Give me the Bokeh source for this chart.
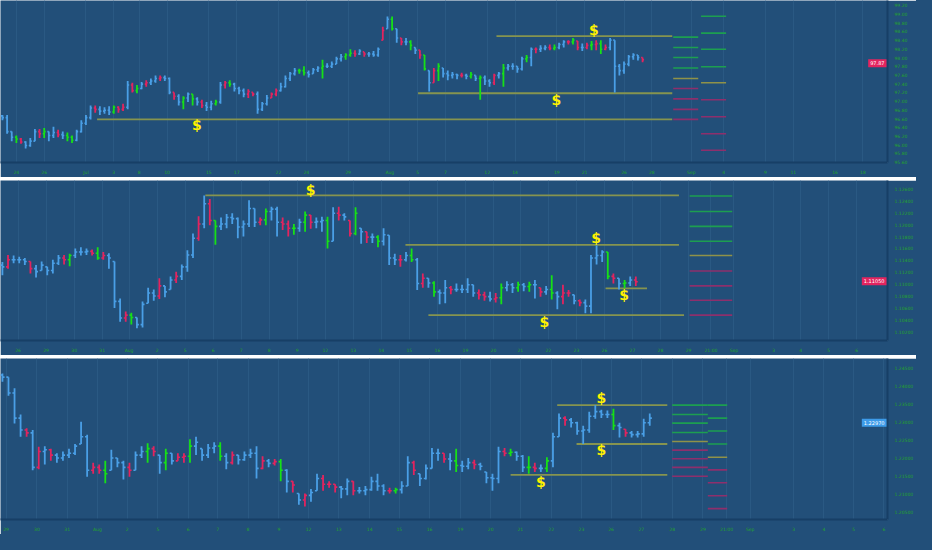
from bokeh.plotting import figure
from bokeh.layouts import column
from bokeh.models import ColumnDataSource, FixedTicker, PrintfTickFormatter, Range1d, Label
from bokeh.core.properties import value
from bokeh.embed import file_html
from bokeh.resources import INLINE
from bokeh.core.templates import get_env

BG = "#224f79"
COL = {"b": "#4a9fe6", "r": "#e3245f", "g": "#17e017"}
LAD = {"g": "#1d9f50", "o": "#8f9249", "m": "#8e2f6c"}
LEVEL_COLOR = "#86944f"
AXIS_LINE = "#173f66"
LABEL_GREEN = "#23a52a"

# ---------------- Panel 1 (dollar index) ----------------
P1_HIGH = [96.68, 96.68, 96.30, 96.21, 96.15, 96.08, 96.15, 96.36, 96.36, 96.38,
           96.30, 96.41, 96.34, 96.30, 96.28, 96.21, 96.34, 96.56, 96.68, 96.90,
           96.90, 96.88, 96.86, 96.88, 96.90, 96.88, 96.94, 97.46, 97.42, 97.37,
           97.44, 97.48, 97.52, 97.59, 97.59, 97.59, 97.54, 97.20, 97.16, 97.11,
           97.20, 97.16, 97.09, 97.03, 96.98, 97.01, 97.03, 97.44, 97.46, 97.48,
           97.42, 97.33, 97.29, 97.27, 97.20, 97.22, 96.98, 97.14, 97.20, 97.29,
           97.42, 97.59, 97.67, 97.76, 97.74, 97.80, 97.70, 97.76, 97.80, 97.95,
           97.87, 97.91, 98.02, 98.08, 98.10, 98.19, 98.17, 98.19, 98.13, 98.13,
           98.15, 98.23, 98.71, 98.94, 98.94, 98.66, 98.45, 98.45, 98.40, 98.23,
           98.17, 98.06, 97.70, 97.76, 97.87, 97.76, 97.70, 97.67, 97.63, 97.65,
           97.63, 97.67, 97.59, 97.59, 97.59, 97.50, 97.63, 97.67, 97.85, 97.85,
           97.87, 97.80, 98.02, 98.06, 98.23, 98.23, 98.28, 98.28, 98.30, 98.30,
           98.34, 98.40, 98.40, 98.45, 98.38, 98.32, 98.34, 98.38, 98.40, 98.40,
           98.30, 98.45, 98.40, 97.85, 97.91, 98.06, 98.10, 98.06, 98.00]
P1_LOW = [96.56, 96.25, 96.08, 96.04, 96.02, 95.91, 95.95, 96.08, 96.15, 96.15,
          96.08, 96.15, 96.17, 96.13, 96.08, 96.04, 96.08, 96.28, 96.45, 96.58,
          96.73, 96.68, 96.71, 96.68, 96.71, 96.73, 96.77, 96.81, 97.20, 97.18,
          97.27, 97.33, 97.37, 97.42, 97.46, 97.46, 97.16, 97.03, 96.90, 96.81,
          96.98, 96.90, 96.90, 96.84, 96.77, 96.79, 96.90, 96.94, 97.29, 97.33,
          97.22, 97.16, 97.09, 97.07, 97.11, 96.71, 96.77, 96.90, 97.07, 97.11,
          97.22, 97.31, 97.46, 97.59, 97.63, 97.59, 97.54, 97.63, 97.67, 97.52,
          97.76, 97.76, 97.85, 97.91, 97.95, 98.02, 98.02, 98.06, 98.02, 98.02,
          98.02, 98.02, 98.40, 98.66, 98.62, 98.34, 98.28, 98.28, 98.17, 98.08,
          97.97, 97.70, 97.22, 97.42, 97.46, 97.54, 97.48, 97.52, 97.50, 97.54,
          97.50, 97.52, 97.46, 97.03, 97.37, 97.33, 97.37, 97.52, 97.33, 97.70,
          97.72, 97.65, 97.70, 97.89, 97.80, 98.10, 98.13, 98.17, 98.17, 98.17,
          98.19, 98.23, 98.30, 98.30, 98.17, 98.15, 98.19, 98.17, 98.17, 98.08,
          98.17, 98.17, 97.20, 97.59, 97.63, 97.80, 97.95, 97.93, 97.89]
P1_CLOSE = [96.62, 96.30, 96.17, 96.13, 96.06, 95.98, 96.08, 96.30, 96.25, 96.30,
            96.21, 96.28, 96.23, 96.21, 96.17, 96.10, 96.30, 96.49, 96.62, 96.84,
            96.81, 96.77, 96.79, 96.75, 96.86, 96.81, 96.86, 97.37, 97.24, 97.29,
            97.39, 97.42, 97.46, 97.52, 97.54, 97.52, 97.20, 97.11, 96.98, 97.07,
            97.16, 97.05, 96.98, 96.90, 96.86, 96.94, 96.98, 97.37, 97.42, 97.39,
            97.29, 97.24, 97.16, 97.22, 97.16, 96.81, 96.94, 97.07, 97.16, 97.24,
            97.33, 97.52, 97.63, 97.70, 97.70, 97.65, 97.61, 97.72, 97.76, 97.80,
            97.80, 97.85, 97.97, 98.02, 98.06, 98.10, 98.08, 98.15, 98.08, 98.08,
            98.06, 98.19, 98.62, 98.88, 98.66, 98.45, 98.36, 98.36, 98.28, 98.17,
            98.06, 97.74, 97.42, 97.70, 97.80, 97.63, 97.59, 97.61, 97.59, 97.59,
            97.57, 97.61, 97.52, 97.54, 97.46, 97.42, 97.59, 97.63, 97.76, 97.80,
            97.80, 97.74, 97.97, 98.00, 98.19, 98.19, 98.21, 98.23, 98.21, 98.23,
            98.30, 98.36, 98.36, 98.40, 98.23, 98.23, 98.28, 98.30, 98.32, 98.19,
            98.23, 98.40, 97.80, 97.70, 97.85, 98.02, 98.06, 98.00, 97.95]
P1_COLORS = ("bbbgrbbbrg" "bbrbggbbbb" "rbbbgrrbrg" "brbbrbbrbg" "bgbrbbgbrg"
             "bbbrrbbbrr" "bbbbggbbbg" "bbbbggrbrb" "bbrbgbrbgb" "rgbrgbbbbr"
             "bgbgbbrbgb" "bbbgbrbbrg" "bbrgrbrgrg" "rbbbbbbbr")
P1_OPEN0 = 96.66
P1_XTICKS = [3, 9, 18, 24, 29.5, 35.5, 44.5, 50.5, 59.5, 65.5, 74.5, 83.5, 89.5,
             95.5, 104.5, 110.5, 119.5, 125.5, 134, 140, 148.5, 155.5, 164.5,
             170.5, 179.5, 185.5]
P1_XLABELS = ["24", "26", "Jul", "3", "8", "10", "15", "17", "22", "24", "29", "Aug",
              "5", "7", "12", "14", "19", "21", "26", "28", "Sep", "4", "9", "11",
              "16", "18"]
P1_YTICKS = [95.6, 95.8, 96.0, 96.2, 96.4, 96.6, 96.8, 97.0, 97.2, 97.4, 97.6,
             97.8, 98.0, 98.2, 98.4, 98.6, 98.8, 99.0, 99.2]
P1_LEVEL_Y = [96.58, 97.18, 98.49]
P1_LEVEL_X0 = [20.4, 89.6, 106.5]
P1_LEVEL_X1 = [144.4, 144.4, 144.4]
P1_DOLLAR_X = [41.9, 119.4, 127.5]
P1_DOLLAR_Y = [96.45, 97.03, 98.64]
P1_LADDER_A = [98.47, 98.23, 98.00, 97.76, 97.52, 97.29, 97.05, 96.81, 96.58]
P1_LADDER_B = [98.95, 98.56, 98.19, 97.79, 97.42, 97.03, 96.64, 96.25, 95.87]
P1_TAG = 97.87

# ---------------- Panel 2 (EUR/USD) ----------------
P2_HIGH = [1.1137, 1.1149, 1.1148, 1.1146, 1.1144, 1.1138, 1.1132, 1.1138, 1.1129, 1.1141,
           1.1149, 1.1149, 1.1151, 1.1160, 1.1162, 1.1160, 1.1158, 1.1162, 1.1154, 1.1152,
           1.1138, 1.1076, 1.1054, 1.1052, 1.1044, 1.1071, 1.1094, 1.1091, 1.1110, 1.1097,
           1.1113, 1.1121, 1.1133, 1.1157, 1.1185, 1.1214, 1.1249, 1.1243, 1.1207, 1.1212,
           1.1218, 1.1219, 1.1212, 1.1207, 1.1241, 1.1227, 1.1212, 1.1227, 1.1230, 1.1230,
           1.1212, 1.1207, 1.1201, 1.1210, 1.1222, 1.1216, 1.1212, 1.1213, 1.1213, 1.1229,
           1.1230, 1.1219, 1.1207, 1.1229, 1.1194, 1.1188, 1.1185, 1.1182, 1.1194, 1.1182,
           1.1151, 1.1149, 1.1154, 1.1160, 1.1144, 1.1118, 1.1110, 1.1105, 1.1091, 1.1107,
           1.1097, 1.1101, 1.1099, 1.1110, 1.1099, 1.1091, 1.1087, 1.1087, 1.1085, 1.1101,
           1.1105, 1.1102, 1.1104, 1.1102, 1.1104, 1.1107, 1.1094, 1.1097, 1.1115, 1.1088,
           1.1099, 1.1090, 1.1082, 1.1074, 1.1074, 1.1149, 1.1165, 1.1157, 1.1154, 1.1118,
           1.1110, 1.1107, 1.1113, 1.1113]
P2_LOW = [1.1115, 1.1126, 1.1135, 1.1135, 1.1132, 1.1118, 1.1111, 1.1123, 1.1115, 1.1118,
          1.1132, 1.1133, 1.1130, 1.1144, 1.1148, 1.1149, 1.1148, 1.1141, 1.1141, 1.1126,
          1.1060, 1.1037, 1.1037, 1.1032, 1.1026, 1.1027, 1.1068, 1.1072, 1.1075, 1.1078,
          1.1091, 1.1102, 1.1107, 1.1121, 1.1144, 1.1173, 1.1194, 1.1199, 1.1166, 1.1191,
          1.1194, 1.1201, 1.1177, 1.1180, 1.1196, 1.1196, 1.1199, 1.1199, 1.1207, 1.1180,
          1.1191, 1.1180, 1.1183, 1.1188, 1.1188, 1.1193, 1.1194, 1.1188, 1.1160, 1.1172,
          1.1207, 1.1207, 1.1180, 1.1182, 1.1168, 1.1169, 1.1169, 1.1162, 1.1165, 1.1132,
          1.1132, 1.1129, 1.1138, 1.1137, 1.1090, 1.1094, 1.1094, 1.1079, 1.1066, 1.1068,
          1.1083, 1.1087, 1.1085, 1.1085, 1.1079, 1.1074, 1.1072, 1.1071, 1.1069, 1.1066,
          1.1088, 1.1085, 1.1087, 1.1088, 1.1087, 1.1076, 1.1079, 1.1082, 1.1074, 1.1058,
          1.1066, 1.1079, 1.1066, 1.1063, 1.1051, 1.1051, 1.1133, 1.1137, 1.1108, 1.1101,
          1.1091, 1.1093, 1.1097, 1.1097]
P2_CLOSE = [1.1129, 1.1141, 1.1141, 1.1141, 1.1138, 1.1126, 1.1121, 1.1132, 1.1123, 1.1135,
            1.1144, 1.1141, 1.1148, 1.1154, 1.1154, 1.1155, 1.1152, 1.1144, 1.1148, 1.1144,
            1.1071, 1.1043, 1.1048, 1.1044, 1.1032, 1.1066, 1.1085, 1.1080, 1.1097, 1.1087,
            1.1107, 1.1113, 1.1129, 1.1149, 1.1177, 1.1201, 1.1235, 1.1207, 1.1197, 1.1201,
            1.1212, 1.1210, 1.1196, 1.1201, 1.1227, 1.1204, 1.1208, 1.1222, 1.1226, 1.1204,
            1.1201, 1.1194, 1.1194, 1.1204, 1.1216, 1.1204, 1.1205, 1.1207, 1.1172, 1.1219,
            1.1216, 1.1213, 1.1185, 1.1219, 1.1188, 1.1179, 1.1179, 1.1172, 1.1183, 1.1144,
            1.1141, 1.1141, 1.1148, 1.1141, 1.1101, 1.1110, 1.1102, 1.1087, 1.1085, 1.1094,
            1.1091, 1.1091, 1.1091, 1.1099, 1.1085, 1.1082, 1.1079, 1.1075, 1.1077, 1.1094,
            1.1099, 1.1094, 1.1099, 1.1096, 1.1099, 1.1099, 1.1087, 1.1091, 1.1085, 1.1079,
            1.1085, 1.1085, 1.1072, 1.1069, 1.1063, 1.1144, 1.1148, 1.1154, 1.1113, 1.1110,
            1.1101, 1.1102, 1.1107, 1.1104]
P2_COLORS = ("brbbbrbbbb" "brgbbbrgrb" "bbrgbbbbrb" "brbbbrbrgb" "bbbbbbrgbb"
             "rrgbgrbbgb" "rbrgbrbgbb" "brbgbrbgbb" "rbbbbrrbrg" "bbgbgbrbgb"
             "rrbrbbbbgr" "bgbr")
P2_OPEN0 = 1.1132
P2_XTICKS = [2.8, 7.8, 12.8, 17.8, 22.6, 27.6, 32.6, 37.6, 42.6, 47.6, 52.6, 57.6,
             62.6, 67.6, 72.6, 77.6, 82.6, 87.6, 92.4, 97.4, 102.4, 107.4, 112.4,
             117.4, 122.4, 126.4, 130.5, 137.6, 142.4, 147.4, 152.4]
P2_XLABELS = ["26", "29", "30", "31", "Aug", "2", "5", "6", "7", "8", "9", "12", "13",
              "14", "15", "16", "19", "20", "21", "22", "23", "26", "27", "28", "29",
              "21:00", "Sep", "3", "4", "5", "6"]
P2_YTICKS = [1.102, 1.104, 1.106, 1.108, 1.110, 1.112, 1.114, 1.116, 1.118, 1.120,
             1.122, 1.124, 1.126]
P2_LEVEL_Y = [1.1249, 1.1166, 1.1048, 1.1093]
P2_LEVEL_X0 = [36.2, 71.9, 76.0, 107.6]
P2_LEVEL_X1 = [120.7, 120.7, 121.6, 115.0]
P2_DOLLAR_X = [55.0, 105.9, 96.7, 110.9]
P2_DOLLAR_Y = [1.1258, 1.1177, 1.1037, 1.1082]
P2_LADDER = [1.1248, 1.1222, 1.1197, 1.1172, 1.1148, 1.1122, 1.1097, 1.1073, 1.1048]
P2_TAG = 1.1105

# ---------------- Panel 3 (GBP/USD) ----------------
P3_HIGH = [1.2434, 1.2424, 1.2393, 1.2320, 1.2282, 1.2277, 1.2230, 1.2232, 1.2225, 1.2212,
           1.2217, 1.2225, 1.2238, 1.2300, 1.2264, 1.2186, 1.2181, 1.2191, 1.2222, 1.2199,
           1.2191, 1.2186, 1.2217, 1.2232, 1.2240, 1.2232, 1.2207, 1.2225, 1.2212, 1.2212,
           1.2212, 1.2251, 1.2258, 1.2225, 1.2238, 1.2243, 1.2243, 1.2212, 1.2217, 1.2207,
           1.2217, 1.2225, 1.2232, 1.2204, 1.2196, 1.2196, 1.2196, 1.2168, 1.2134, 1.2100,
           1.2100, 1.2113, 1.2155, 1.2152, 1.2134, 1.2126, 1.2121, 1.2142, 1.2134, 1.2118,
           1.2121, 1.2147, 1.2155, 1.2126, 1.2116, 1.2116, 1.2134, 1.2204, 1.2191, 1.2155,
           1.2181, 1.2227, 1.2225, 1.2212, 1.2212, 1.2225, 1.2191, 1.2199, 1.2194, 1.2186,
           1.2160, 1.2155, 1.2230, 1.2227, 1.2225, 1.2217, 1.2207, 1.2204, 1.2186, 1.2181,
           1.2201, 1.2269, 1.2323, 1.2315, 1.2310, 1.2300, 1.2289, 1.2328, 1.2346, 1.2333,
           1.2331, 1.2336, 1.2297, 1.2279, 1.2274, 1.2274, 1.2308, 1.2323]
P3_LOW = [1.2411, 1.2372, 1.2295, 1.2258, 1.2258, 1.2165, 1.2168, 1.2181, 1.2191, 1.2186,
          1.2191, 1.2199, 1.2207, 1.2238, 1.2147, 1.2155, 1.2155, 1.2129, 1.2165, 1.2173,
          1.2139, 1.2147, 1.2165, 1.2199, 1.2186, 1.2204, 1.2155, 1.2165, 1.2181, 1.2191,
          1.2186, 1.2186, 1.2207, 1.2191, 1.2199, 1.2212, 1.2191, 1.2168, 1.2181, 1.2181,
          1.2191, 1.2199, 1.2142, 1.2168, 1.2173, 1.2178, 1.2134, 1.2103, 1.2103, 1.2069,
          1.2064, 1.2077, 1.2108, 1.2108, 1.2116, 1.2103, 1.2087, 1.2095, 1.2095, 1.2100,
          1.2095, 1.2108, 1.2108, 1.2095, 1.2100, 1.2100, 1.2100, 1.2121, 1.2152, 1.2121,
          1.2139, 1.2170, 1.2191, 1.2186, 1.2165, 1.2160, 1.2160, 1.2168, 1.2168, 1.2165,
          1.2129, 1.2108, 1.2129, 1.2204, 1.2204, 1.2191, 1.2160, 1.2155, 1.2160, 1.2160,
          1.2160, 1.2173, 1.2258, 1.2289, 1.2284, 1.2264, 1.2238, 1.2269, 1.2308, 1.2310,
          1.2310, 1.2277, 1.2256, 1.2258, 1.2256, 1.2256, 1.2258, 1.2289]
P3_CLOSE = [1.2424, 1.2380, 1.2310, 1.2277, 1.2269, 1.2173, 1.2217, 1.2222, 1.2207, 1.2199,
            1.2207, 1.2212, 1.2232, 1.2258, 1.2165, 1.2173, 1.2165, 1.2155, 1.2199, 1.2186,
            1.2173, 1.2165, 1.2207, 1.2217, 1.2225, 1.2217, 1.2186, 1.2212, 1.2191, 1.2201,
            1.2204, 1.2232, 1.2243, 1.2207, 1.2227, 1.2232, 1.2204, 1.2186, 1.2207, 1.2194,
            1.2207, 1.2212, 1.2170, 1.2191, 1.2184, 1.2189, 1.2165, 1.2134, 1.2124, 1.2082,
            1.2095, 1.2103, 1.2142, 1.2126, 1.2126, 1.2118, 1.2113, 1.2134, 1.2108, 1.2108,
            1.2111, 1.2134, 1.2121, 1.2108, 1.2108, 1.2111, 1.2121, 1.2186, 1.2165, 1.2142,
            1.2170, 1.2212, 1.2212, 1.2196, 1.2191, 1.2178, 1.2176, 1.2186, 1.2181, 1.2176,
            1.2144, 1.2142, 1.2217, 1.2212, 1.2215, 1.2204, 1.2173, 1.2173, 1.2170, 1.2170,
            1.2191, 1.2258, 1.2310, 1.2305, 1.2297, 1.2274, 1.2277, 1.2315, 1.2328, 1.2320,
            1.2320, 1.2289, 1.2284, 1.2269, 1.2264, 1.2266, 1.2297, 1.2310]
P3_COLORS = ("bbbbrbrbrb" "bbbbbrrgbb" "brbbgrbgbr" "rgbbbbgbrb" "bbbrbrgbrb"
             "rbbrrrbbrb" "bbbbrgbbrb" "bbbrbgbbrb" "bbbrgbbgrb" "gbbrbbbbbb"
             "bgbrbbbb")
P3_OPEN0 = 1.2430
P3_XTICKS = [0.6, 5.7, 10.7, 15.7, 20.6, 25.7, 30.7, 35.6, 40.6, 45.7, 50.6, 55.6,
             60.7, 65.6, 70.6, 75.7, 80.7, 85.6, 90.7, 95.7, 100.6, 105.6, 110.7,
             115.8, 119.7, 123.6, 130.8, 135.8, 140.7, 145.7]
P3_XLABELS = ["29", "30", "31", "Aug", "2", "5", "6", "7", "8", "9", "12", "13", "14",
              "15", "16", "19", "20", "21", "22", "23", "26", "27", "28", "29", "21:00",
              "Sep", "3", "4", "5", "6"]
P3_YTICKS = [1.205, 1.210, 1.215, 1.220, 1.225, 1.230, 1.235, 1.240, 1.245]
P3_LEVEL_Y = [1.2346, 1.2238, 1.2152]
P3_LEVEL_X0 = [91.7, 94.9, 84.0]
P3_LEVEL_X1 = [109.9, 109.9, 109.9]
P3_DOLLAR_X = [99.0, 99.0, 89.0]
P3_DOLLAR_Y = [1.2365, 1.2220, 1.2131]
P3_LADDER_A = [1.2346, 1.2320, 1.2296, 1.2270, 1.2245, 1.2221, 1.2197, 1.2173, 1.2148]
P3_LADDER_B = [1.2346, 1.2310, 1.2274, 1.2238, 1.2201, 1.2166, 1.2130, 1.2094, 1.2058]
P3_TAG = 1.2297

LADDER_CODES = "ggggommmm"


def make_panel(highs, lows, closes, codes, open0, xr, yr, xticks, xlabels, yticks, yfmt,
               lev_y, lev_x0, lev_x1, dol_x, dol_y, ladders, tag_price, tag_fmt, tag_color, tw,
               height):
    p = figure(width=916, height=height, x_range=Range1d(*xr), y_range=Range1d(*yr),
               y_axis_location="right", toolbar_location=None, tools="",
               output_backend="svg", background_fill_color=BG, border_fill_color=BG,
               outline_line_color=None, min_border=0)
    p.xgrid.grid_line_color = "#2a5983"
    p.ygrid.grid_line_color = None

    n = len(closes)
    xs = list(range(n))
    opens = [open0] + closes[:-1]
    opens = [min(max(o, l), h) for o, h, l in zip(opens, highs, lows)]
    cols = [COL[c] for c in codes]
    src = ColumnDataSource(dict(x=xs, h=highs, l=lows, o=opens, c=closes, col=cols,
                                xl=[x - tw for x in xs], xr=[x + tw for x in xs]))

    p.segment(x0=lev_x0, y0=lev_y, x1=lev_x1, y1=lev_y, line_color=LEVEL_COLOR,
              line_width=1.8)
    for (x0, x1, levels) in ladders:
        lc = [LAD[c] for c in LADDER_CODES]
        p.segment(x0=[x0] * len(levels), y0=levels, x1=[x1] * len(levels), y1=levels,
                  line_color=lc, line_width=1.6)

    p.segment(x0="x", y0="l", x1="x", y1="h", line_color="col", line_width=1.8, source=src)
    p.segment(x0="xl", y0="o", x1="x", y1="o", line_color="col", line_width=1.6, source=src)
    p.segment(x0="x", y0="c", x1="xr", y1="c", line_color="col", line_width=1.6, source=src)

    p.text(x=dol_x, y=dol_y, text=["$"] * len(dol_x), text_color="#fff200",
           text_font=value("DejaVu Sans"), text_font_style="bold", text_font_size="14px",
           text_align="center", text_baseline="middle")

    xa = p.xaxis[0]
    xa.ticker = FixedTicker(ticks=xticks)
    xa.major_label_overrides = {t: lab for t, lab in zip(xticks, xlabels)}
    ya = p.yaxis[0]
    ya.ticker = FixedTicker(ticks=yticks)
    ya.formatter = PrintfTickFormatter(format=yfmt)
    for ax in (xa, ya):
        ax.major_tick_line_color = None
        ax.minor_tick_line_color = None
        ax.axis_line_color = AXIS_LINE
        ax.axis_line_width = 2
        ax.major_label_text_color = LABEL_GREEN
        ax.major_label_text_font_size = "4.5px"
        ax.major_label_text_font = "DejaVu Sans"
        ax.major_label_standoff = 1
    p.xgrid.ticker = FixedTicker(ticks=xticks)

    tag = Label(x=xr[1], y=tag_price, x_units="data", y_units="data",
                text=tag_fmt % tag_price, text_color="white", text_font_size="5px",
                text_font="DejaVu Sans", background_fill_color=tag_color,
                text_align="right", text_baseline="middle", x_offset=-1, padding=2)
    p.add_layout(tag)
    return p


p1 = make_panel(P1_HIGH, P1_LOW, P1_CLOSE, P1_COLORS, P1_OPEN0, (-0.42, 190.8), (95.59, 99.31),
                P1_XTICKS, P1_XLABELS, P1_YTICKS, "%.2f",
                P1_LEVEL_Y, P1_LEVEL_X0, P1_LEVEL_X1, P1_DOLLAR_X, P1_DOLLAR_Y,
                [(144.6, 150.0, P1_LADDER_A), (150.6, 156.0, P1_LADDER_B)],
                P1_TAG, "%.2f", "#e3245f", 0.32, 177)
p2 = make_panel(P2_HIGH, P2_LOW, P2_CLOSE, P2_COLORS, P2_OPEN0, (-0.34, 157.9), (1.10053, 1.12741),
                P2_XTICKS, P2_XLABELS, P2_YTICKS, "%.5f",
                P2_LEVEL_Y, P2_LEVEL_X0, P2_LEVEL_X1, P2_DOLLAR_X, P2_DOLLAR_Y,
                [(122.6, 130.2, P2_LADDER)],
                P2_TAG, "%.5f", "#e3245f", 0.35, 175)
p3 = make_panel(P3_HIGH, P3_LOW, P3_CLOSE, P3_COLORS, P3_OPEN0, (-0.32, 146.3), (1.20278, 1.24759),
                P3_XTICKS, P3_XLABELS, P3_YTICKS, "%.5f",
                P3_LEVEL_Y, P3_LEVEL_X0, P3_LEVEL_X1, P3_DOLLAR_X, P3_DOLLAR_Y,
                [(110.7, 116.6, P3_LADDER_A), (116.6, 119.8, P3_LADDER_B)],
                P3_TAG, "%.5f", "#3d9be9", 0.35, 176)

layout = column(p1, p2, p3, spacing=3, styles={"background-color": "white"})

tpl = get_env().from_string(
    '{% extends "file.html" %}{% block preamble %}'
    '<style>html, body { background-color: #224f79; }</style>{% endblock %}')

open("out.html", "w").write(file_html(layout, INLINE, template=tpl))
